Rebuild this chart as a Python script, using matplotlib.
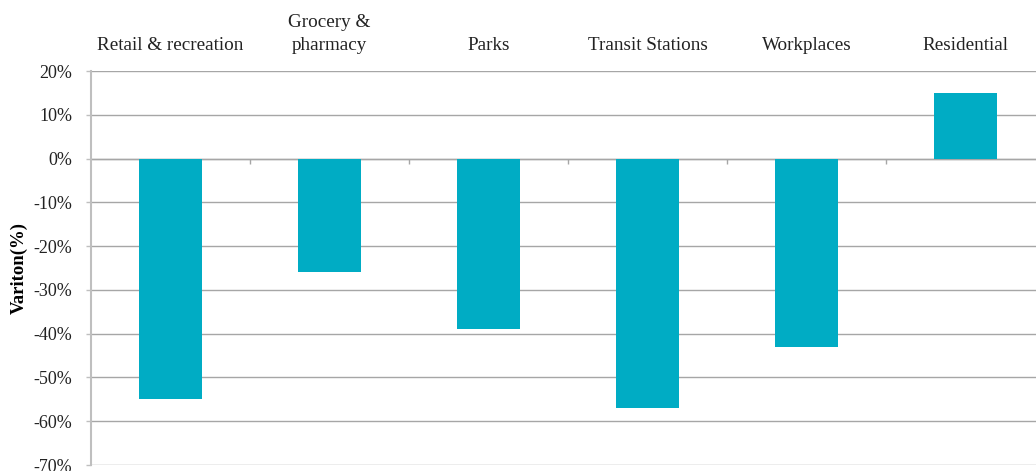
import matplotlib
matplotlib.use("Agg")
import matplotlib.pyplot as plt
from matplotlib.ticker import FuncFormatter, FixedLocator

categories = ["Retail & recreation", "Grocery &\npharmacy", "Parks",
              "Transit Stations", "Workplaces", "Residential"]
values = [-55, -26, -39, -57, -43, 15]
yticks = [-70, -60, -50, -40, -30, -20, -10, 0, 10, 20]

plt.rcParams['font.family'] = ['Liberation Serif', 'DejaVu Serif']

fig = plt.figure(figsize=(10.36, 4.71), dpi=100)
ax = fig.add_axes([91/1036, 1 - 465/471, 954/1036, (465-71)/471])

x = list(range(len(categories)))
ax.bar(x, values, width=0.4, color="#00ACC4", zorder=3)

ax.set_xlim(-0.5, len(categories) - 0.5)
ax.set_ylim(-70, 20)
ax.set_yticks(yticks)
ax.yaxis.set_major_formatter(FuncFormatter(lambda v, p: f"{int(round(v))}%"))
ax.tick_params(axis='y', length=3.6, width=1, color="#BFBFBF", pad=10, labelsize=13, labelcolor="#222222")
ax.grid(axis='y', color="#A6A6A6", linewidth=1, zorder=0)
ax.set_axisbelow(True)

for s in ['top', 'right']:
    ax.spines[s].set_visible(False)
ax.spines['left'].set_color("#BFBFBF")
ax.spines['left'].set_linewidth(1.5)
ax.spines['bottom'].set_position(('data', 0))
ax.spines['bottom'].set_color("#A6A6A6")
ax.spines['bottom'].set_linewidth(1)
ax.spines['bottom'].set_zorder(2)

ax.xaxis.set_major_locator(FixedLocator([i + 0.5 for i in x[:-1]]))
ax.tick_params(axis='x', direction='out', length=3.6, width=1, color="#A6A6A6", labelbottom=False)

sec = ax.secondary_xaxis('top')
sec.set_xticks(x)
sec.set_xticklabels(categories, fontsize=13.8, color="#222222", linespacing=1.45)
sec.tick_params(length=0, pad=12)
sec.spines['top'].set_visible(False)

ax.set_ylabel("Variton(%)", fontsize=13.5, fontweight='bold')
ax.yaxis.set_label_coords(-0.066, 0.5)

fig.savefig("out.png", dpi=100)
